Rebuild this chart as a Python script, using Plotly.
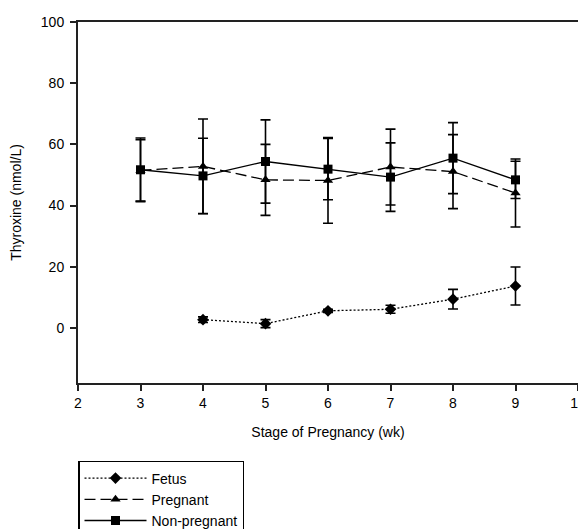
import plotly.graph_objects as go

weeks_adult = [3, 4, 5, 6, 7, 8, 9]
weeks_fetus = [4, 5, 6, 7, 8, 9]

fetus_mean = [2.7, 1.4, 5.6, 6.1, 9.4, 13.7]
fetus_err = [0.9, 1.3, 0.5, 1.3, 3.2, 6.2]

pregnant_mean = [51.5, 52.8, 48.4, 48.2, 52.6, 51.1, 44.1]
pregnant_err = [10.0, 15.5, 11.6, 14.0, 12.4, 12.1, 11.1]

nonpreg_mean = [51.7, 49.7, 54.4, 51.9, 49.3, 55.5, 48.4]
nonpreg_err = [10.4, 12.3, 13.6, 10.0, 11.2, 11.6, 6.1]

x_ticks = [2, 3, 4, 5, 6, 7, 8, 9, 10]
y_ticks = [0, 20, 40, 60, 80, 100]

FONT = "Liberation Sans, Arial, sans-serif"

fig = go.Figure()

def err(arr):
    return dict(type="data", array=arr, visible=True, color="black", thickness=1.6, width=5)

fig.add_trace(go.Scatter(
    x=weeks_fetus, y=fetus_mean, name="Fetus", mode="lines+markers",
    line=dict(color="black", width=1.3, dash="2px,2px"),
    marker=dict(symbol="diamond", size=9, color="black"),
    error_y=err(fetus_err),
))
fig.add_trace(go.Scatter(
    x=weeks_adult, y=pregnant_mean, name="Pregnant", mode="lines+markers",
    line=dict(color="black", width=1.3, dash="11px,5px"),
    marker=dict(symbol="triangle-up", size=9, color="black"),
    error_y=err(pregnant_err),
))
fig.add_trace(go.Scatter(
    x=weeks_adult, y=nonpreg_mean, name="Non-pregnant", mode="lines+markers",
    line=dict(color="black", width=1.3),
    marker=dict(symbol="square", size=9, color="black"),
    error_y=err(nonpreg_err),
))

fig.update_layout(
    width=578, height=521,
    margin=dict(l=70, r=8, t=14, b=146, autoexpand=False),
    paper_bgcolor="white", plot_bgcolor="white",
    font=dict(family=FONT, size=14, color="black"),
    showlegend=True,
    legend=dict(
        x=0.0, y=-0.216, xanchor="left", yanchor="top",
        bordercolor="black", borderwidth=1.5, bgcolor="white",
        font=dict(size=14), itemwidth=62, tracegroupgap=0,
    ),
    xaxis=dict(
        range=[2, 10], tickvals=x_ticks, ticks="outside", ticklen=6, tickwidth=1.5,
        tickcolor="#222", showline=True, linecolor="#222", linewidth=2, mirror=True,
        showgrid=False, zeroline=False, tickfont=dict(size=14), automargin=False,
        title=dict(text="Stage of Pregnancy (wk)", font=dict(size=14), standoff=17),
    ),
    yaxis=dict(
        range=[-18, 100], tickvals=y_ticks, ticks="outside", ticklen=6, tickwidth=1.5,
        tickcolor="#222", showline=True, linecolor="#222", linewidth=2, mirror=True,
        showgrid=False, zeroline=False, tickfont=dict(size=14), automargin=False,
        ticklabelstandoff=3,
        title=dict(text="Thyroxine (nmol/L)", font=dict(size=14), standoff=20),
    ),
)

fig.write_html("out.html")
